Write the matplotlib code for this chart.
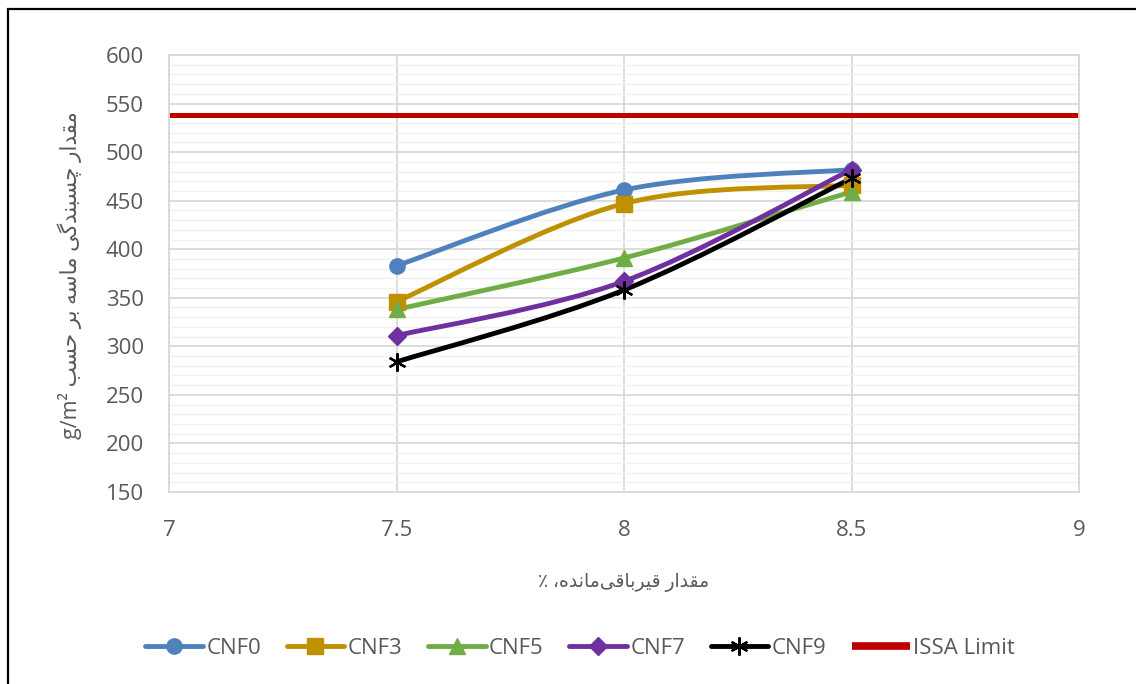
import numpy as np
import matplotlib
matplotlib.use("Agg")
import matplotlib.pyplot as plt
from matplotlib.path import Path
from matplotlib.patches import PathPatch, Rectangle
from matplotlib.lines import Line2D

# ---- data ----
residual_bitumen = [7.5, 8.0, 8.5]
cnf0 = [383, 461, 482]
cnf3 = [346, 447, 466]
cnf5 = [338, 391, 459]
cnf7 = [311, 367, 482]
cnf9 = [284, 358, 473]
issa_x = [7.0, 9.0]
issa_limit = [538, 538]

series_names = ["CNF0", "CNF3", "CNF5", "CNF7", "CNF9"]
series_values = [cnf0, cnf3, cnf5, cnf7, cnf9]
series_colors = ["#4f81bd", "#bf9000", "#70ad47", "#7030a0", "#000000"]
series_markers = ["o", "s", "^", "D", (6, 2, 0)]
marker_sizes = [11, 11, 11, 9.5, 13]

x_ticks = [7, 7.5, 8, 8.5, 9]
x_tick_labels = ["7", "7.5", "8", "8.5", "9"]
y_ticks = list(range(150, 601, 50))

ylabel_fa = "مقدار چسبندگی ماسه بر حسب"
ylabel_unit = "g/m²"
xlabel_fa = "مقدار قیرباقی\u200cمانده، ٪"

# ---- minimal Persian shaping (contextual forms + visual order) ----
FORMS = {
    'ا': ('\uFE8D', '\uFE8E', None, None),
    'ب': ('\uFE8F', '\uFE90', '\uFE91', '\uFE92'),
    'ح': ('\uFEA1', '\uFEA2', '\uFEA3', '\uFEA4'),
    'د': ('\uFEA9', '\uFEAA', None, None),
    'ر': ('\uFEAD', '\uFEAE', None, None),
    'س': ('\uFEB1', '\uFEB2', '\uFEB3', '\uFEB4'),
    'ق': ('\uFED5', '\uFED6', '\uFED7', '\uFED8'),
    'م': ('\uFEE1', '\uFEE2', '\uFEE3', '\uFEE4'),
    'ن': ('\uFEE5', '\uFEE6', '\uFEE7', '\uFEE8'),
    'ه': ('\uFEE9', '\uFEEA', '\uFEEB', '\uFEEC'),
    'چ': ('\uFB7A', '\uFB7B', '\uFB7C', '\uFB7D'),
    'گ': ('\uFB92', '\uFB93', '\uFB94', '\uFB95'),
    'ی': ('\uFBFC', '\uFBFD', '\uFBFE', '\uFBFF'),
}


def shape(text):
    out = []
    for i, c in enumerate(text):
        if c not in FORMS:
            if c != '\u200c':
                out.append(c)
            continue
        prev = text[i - 1] if i > 0 else None
        nxt = text[i + 1] if i + 1 < len(text) else None
        j_prev = prev in FORMS and FORMS[prev][2] is not None
        j_next = FORMS[c][2] is not None and nxt in FORMS
        iso, fin, ini, med = FORMS[c]
        if j_prev and j_next:
            out.append(med)
        elif j_prev:
            out.append(fin)
        elif j_next:
            out.append(ini)
        else:
            out.append(iso)
    return ''.join(out)[::-1]


# ---- Excel-style smoothed line as cubic Bezier path ----
def smooth_path(xs, ys):
    pts = np.column_stack([xs, ys]).astype(float)
    n = len(pts)
    verts = [pts[0]]
    codes = [Path.MOVETO]
    for i in range(n - 1):
        p0 = pts[i - 1] if i > 0 else pts[i]
        p1, p2 = pts[i], pts[i + 1]
        p3 = pts[i + 2] if i + 2 < n else pts[i + 1]
        c1 = p1 + (p2 - p0) / 6.0
        c2 = p2 - (p3 - p1) / 6.0
        verts += [c1, c2, p2]
        codes += [Path.CURVE4] * 3
    return Path(verts, codes)


TEXT = "#595959"
FONT = ["Open Sans", "DejaVu Sans"]
plt.rcParams["font.family"] = FONT

fig = plt.figure(figsize=(11.36, 6.84), dpi=100)
W, H = 1136, 684
ax = fig.add_axes([169 / W, 1 - 492 / H, (1079 - 169) / W, (492 - 55) / H])

ax.set_xlim(7, 9)
ax.set_ylim(150, 600)
ax.set_xticks(x_ticks)
ax.set_xticklabels(x_tick_labels)
ax.set_yticks(y_ticks)
ax.set_yticks(np.arange(150, 601, 10), minor=True)
ax.tick_params(which="both", length=0)
ax.tick_params(axis="x", pad=20, labelsize=16, labelcolor=TEXT)
ax.tick_params(axis="y", pad=18, labelsize=16, labelcolor=TEXT)
ax.grid(which="minor", axis="y", color="#f0f0f0", lw=1.0)
ax.grid(which="major", axis="both", color="#d9d9d9", lw=1.3)
ax.set_axisbelow(True)
for s in ax.spines.values():
    s.set_color("#d9d9d9")
    s.set_linewidth(1.3)

legend_handles = []
for name, vals, col, mk, ms in zip(series_names, series_values, series_colors,
                                   series_markers, marker_sizes):
    patch = PathPatch(smooth_path(residual_bitumen, vals), fill=False,
                      edgecolor=col, lw=3.5, capstyle="round", joinstyle="round")
    ax.add_patch(patch)
    if mk == (6, 2, 0):
        ax.plot(residual_bitumen, vals, ls="none", marker=mk, ms=ms,
                mec=col, mew=1.6)
        h = Line2D([], [], color=col, lw=3.5, marker=mk, ms=ms, mec=col,
                   mew=1.6, solid_capstyle="round")
    else:
        ax.plot(residual_bitumen, vals, ls="none", marker=mk, ms=ms,
                mfc=col, mec=col)
        h = Line2D([], [], color=col, lw=3.5, marker=mk, ms=ms, mfc=col,
                   mec=col, solid_capstyle="round")
    legend_handles.append(h)

ax.plot(issa_x, issa_limit, color="#c00000", lw=3.6, solid_capstyle="butt")
legend_handles.append(Line2D([], [], color="#c00000", lw=5.5,
                             solid_capstyle="butt"))

leg = fig.legend(legend_handles, series_names + ["ISSA Limit"],
                 loc="center", bbox_to_anchor=(580 / W, 1 - 648 / H), ncol=6,
                 frameon=False, fontsize=16, handlelength=2.6,
                 handletextpad=0.15, columnspacing=1.15, labelcolor=TEXT)

# axis titles
fig.text(624 / W, 1 - 583 / H, shape(xlabel_fa), ha="center", va="center",
         fontsize=13.5, color=TEXT, family=FONT)
fig.text(70 / W, 1 - 275 / H, ylabel_unit + " " + shape(ylabel_fa),
         ha="center", va="center", rotation=90, fontsize=15.5, color=TEXT,
         family=FONT)

# chart frame
fig.add_artist(Rectangle((8 / W, -0.05), 1.2, 1 - 9 / H + 0.05,
                         transform=fig.transFigure, fill=False,
                         edgecolor="black", lw=1.6))

fig.savefig("out.png", dpi=100)
